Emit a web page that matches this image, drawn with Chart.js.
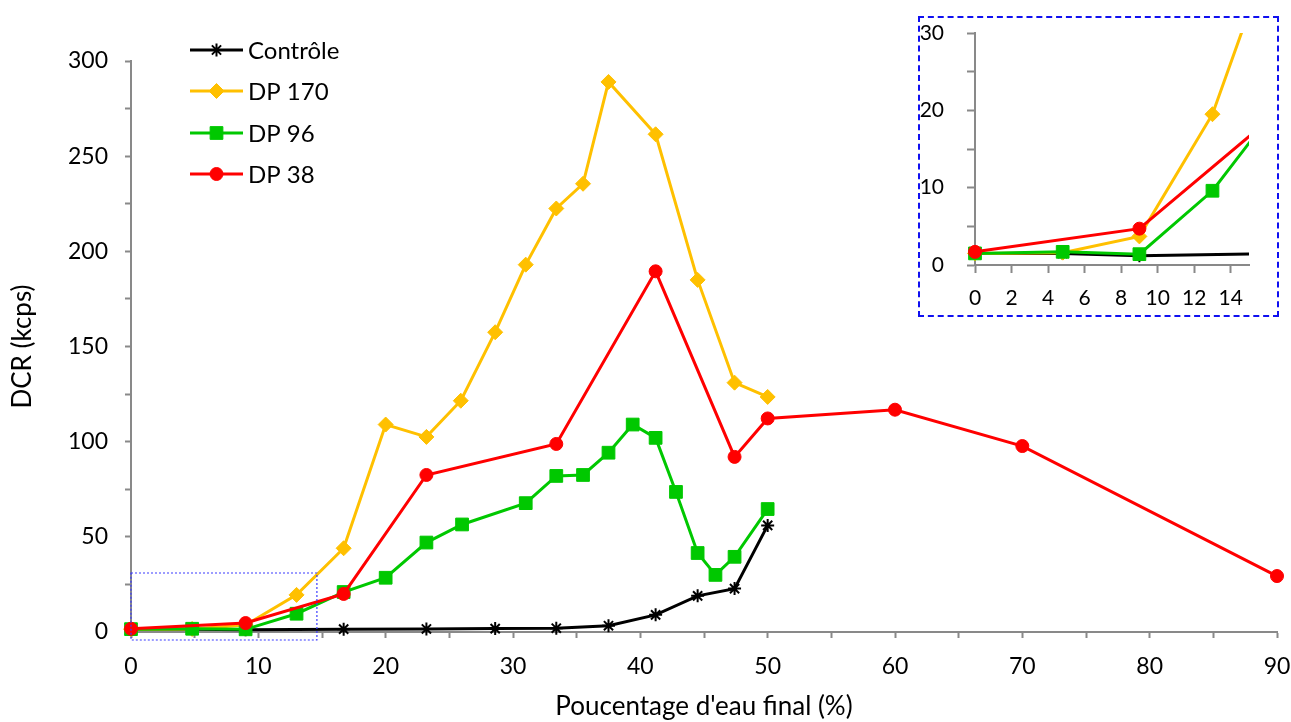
<!DOCTYPE html>
<html>
<head>
<meta charset="utf-8">
<script src="https://cdn.jsdelivr.net/npm/chart.js@4/dist/chart.umd.min.js"></script>
<style>
  html,body{margin:0;padding:0;background:#fff;}
  #main{position:absolute;left:0;top:0;width:1291px;height:722px;}
  #encart{position:absolute;left:918px;top:16px;width:361px;height:301px;box-sizing:border-box;
    border:2px dashed #1010f0;background:#fff;}
</style>
</head>
<body>
<div id="main"><canvas id="chMain"></canvas></div>
<div id="encart"><canvas id="chEncart"></canvas></div>
<script>
/* ---- données ---- */
const xControle = [0, 4.8, 9.0, 16.7, 23.2, 28.6, 33.4, 37.5, 41.2, 44.5, 47.4, 50];
const yControle = [1.5, 1.5, 1.2, 1.5, 1.6, 1.8, 2.0, 3.3, 9.0, 19.0, 22.8, 56.0];

const xDP170 = [0, 4.8, 9.0, 13.0, 16.7, 20, 23.2, 25.9, 28.6, 31.0, 33.4, 35.5, 37.5, 41.2, 44.5, 47.4, 50];
const yDP170 = [1.5, 1.6, 3.7, 19.5, 44, 109, 102.5, 121.5, 157.5, 193, 222.5, 235.5, 289, 261.5, 185, 131, 123.5];

const xDP96 = [0, 4.8, 9.0, 13.0, 16.7, 20, 23.2, 26.0, 31.0, 33.4, 35.5, 37.5, 39.4, 41.2, 42.8, 44.5, 45.9, 47.4, 50];
const yDP96 = [1.5, 1.7, 1.4, 9.6, 21, 28.5, 47, 56.5, 67.7, 82, 82.5, 94.2, 109, 102, 73.6, 41.5, 30, 39.5, 64.6];

const xDP38 = [0, 9.0, 16.7, 23.2, 33.4, 41.2, 47.4, 50, 60, 70, 90];
const yDP38 = [1.7, 4.7, 20, 82.5, 98.8, 189.5, 92, 112.2, 116.8, 97.7, 29.4];

const labels = ['Contrôle', 'DP 170', 'DP 96', 'DP 38'];
// graduations (toutes) et valeurs étiquetées
const xGradMain = [0, 5, 10, 15, 20, 25, 30, 35, 40, 45, 50, 55, 60, 65, 70, 75, 80, 85, 90];
const xTicksMain = [0, 10, 20, 30, 40, 50, 60, 70, 80, 90];
const yGradMain = [0, 25, 50, 75, 100, 125, 150, 175, 200, 225, 250, 275, 300];
const yTicksMain = [0, 50, 100, 150, 200, 250, 300];
const xGradEncart = [0, 2, 4, 6, 8, 10, 12, 14];
const yGradEncart = [0, 5, 10, 15, 20, 25, 30];
const yTicksEncart = [0, 10, 20, 30];
const zoneEncart = {x: [0, 14.6], y: [-4.2, 31]};

const FONT = 'Lato, "Open Sans", sans-serif';
const GRIS = '#898989';
const zip = (xs, ys) => xs.map((x, i) => ({x, y: ys[i]}));

function series(){
  return [
    {label: labels[0], data: zip(xControle, yControle), borderColor: '#000', backgroundColor: '#000',
      pointStyle: 'star', pointRadius: 6.5, pointBorderWidth: 2, order: 4},
    {label: labels[1], data: zip(xDP170, yDP170), borderColor: '#FFC000', backgroundColor: '#FFC000',
      pointStyle: 'rectRot', pointRadius: 7.5, pointBorderWidth: 1, order: 3},
    {label: labels[2], data: zip(xDP96, yDP96), borderColor: '#00C800', backgroundColor: '#00C800',
      pointStyle: 'rect', pointRadius: 9, pointBorderWidth: 1, order: 2},
    {label: labels[3], data: zip(xDP38, yDP38), borderColor: '#FF0000', backgroundColor: '#FF0000',
      pointStyle: 'circle', pointRadius: 6.5, pointBorderWidth: 1, order: 1}
  ].map(d => ({...d, borderWidth: 3, tension: 0, pointHoverRadius: d.pointRadius}));
}

// axe linéaire façon Excel : graduations extérieures grises, pas de quadrillage
function axe(o){
  return {
    type: 'linear',
    min: o.min, max: o.max,
    border: {display: true, color: GRIS, width: 2},
    grid: {display: true, drawOnChartArea: false, drawTicks: true, tickLength: o.tl || 6, color: GRIS, tickWidth: 2},
    ticks: {padding: o.pad, color: '#000', font: {family: FONT, size: o.fs}, autoSkip: false, maxRotation: 0,
      callback: v => (o.show.includes(v) ? String(v) : '')},
    afterBuildTicks: s => { s.ticks = o.grad.map(v => ({value: v})); },
    afterFit: s => {
      if (o.w) s.width = o.w;
      if (o.h) s.height = o.h;
      // pas de marge auto pour le débordement des étiquettes : la mise en page est fixée par layout.padding
      s.paddingLeft = 0; s.paddingRight = 0; s.paddingTop = 0; s.paddingBottom = 0;
    },
    title: o.title ? {display: true, text: o.title, color: '#000', font: {family: FONT, size: 26}, padding: o.tpad} : {display: false}
  };
}

/* ---- légende et cadre de zoom dessinés sur le graphique principal ---- */
const legendeMain = {
  id: 'legendeMain',
  afterDatasetsDraw(chart){
    const ctx = chart.ctx;
    const xs = chart.scales.x, ys = chart.scales.y;
    const l = xs.getPixelForValue(zoneEncart.x[0]), r = xs.getPixelForValue(zoneEncart.x[1]);
    const t = ys.getPixelForValue(zoneEncart.y[1]), b = ys.getPixelForValue(zoneEncart.y[0]);
    ctx.save();
    ctx.strokeStyle = '#3a3aff'; ctx.lineWidth = 1.2; ctx.setLineDash([2, 2]);
    ctx.strokeRect(l, t, r - l, b - t);
    ctx.restore();
  },
  afterDraw(chart){
    const ctx = chart.ctx;
    const rows = [50, 91, 133, 174];
    chart.data.datasets.forEach((d, i) => {
      const y = rows[i];
      ctx.save();
      ctx.strokeStyle = d.borderColor; ctx.lineWidth = 3;
      ctx.beginPath(); ctx.moveTo(190, y); ctx.lineTo(243, y); ctx.stroke();
      ctx.fillStyle = d.backgroundColor; ctx.strokeStyle = d.borderColor; ctx.lineWidth = d.pointBorderWidth;
      Chart.helpers.drawPoint(ctx, {pointStyle: d.pointStyle, radius: d.pointRadius, borderWidth: d.pointBorderWidth}, 216.5, y);
      ctx.fillStyle = '#000'; ctx.font = '24px ' + FONT; ctx.textBaseline = 'middle'; ctx.textAlign = 'left';
      ctx.fillText(d.label, 248, y + 1);
      ctx.restore();
    });
  }
};

new Chart(document.getElementById('chMain'), {
  type: 'line',
  data: {datasets: series().map(d => ({...d, clip: false}))},
  options: {
    responsive: true, maintainAspectRatio: false, animation: false,
    layout: {padding: {top: 61, right: 14, left: 0, bottom: 0}},
    plugins: {legend: {display: false}, tooltip: {enabled: false}},
    scales: {
      x: axe({min: 0, max: 90, grad: xGradMain, show: xTicksMain, pad: 15, fs: 23, h: 90,
        title: "Poucentage d'eau final (%)", tpad: {top: 0, bottom: 0}}),
      y: axe({min: 0, max: 300, grad: yGradMain, show: yTicksMain, pad: 17, fs: 23, w: 131,
        title: 'DCR (kcps)', tpad: {top: 7, bottom: 0}})
    }
  },
  plugins: [legendeMain]
});

/* ---- encart : zoom 0–15 % ---- */
new Chart(document.getElementById('chEncart'), {
  type: 'line',
  data: {datasets: series().map(d => ({...d, clip: {left: 12, top: 0, right: 0, bottom: 12}}))},
  options: {
    responsive: true, maintainAspectRatio: false, animation: false,
    layout: {padding: {top: 15, right: 28, left: 0, bottom: 0}},
    plugins: {legend: {display: false}, tooltip: {enabled: false}},
    scales: {
      x: axe({min: 0, max: 15, grad: xGradEncart, show: xGradEncart, pad: 13, tl: 8, fs: 21, h: 50}),
      y: axe({min: 0, max: 30, grad: yGradEncart, show: yTicksEncart, pad: 23, tl: 8, fs: 21, w: 55})
    }
  }
});
</script>
</body>
</html>
